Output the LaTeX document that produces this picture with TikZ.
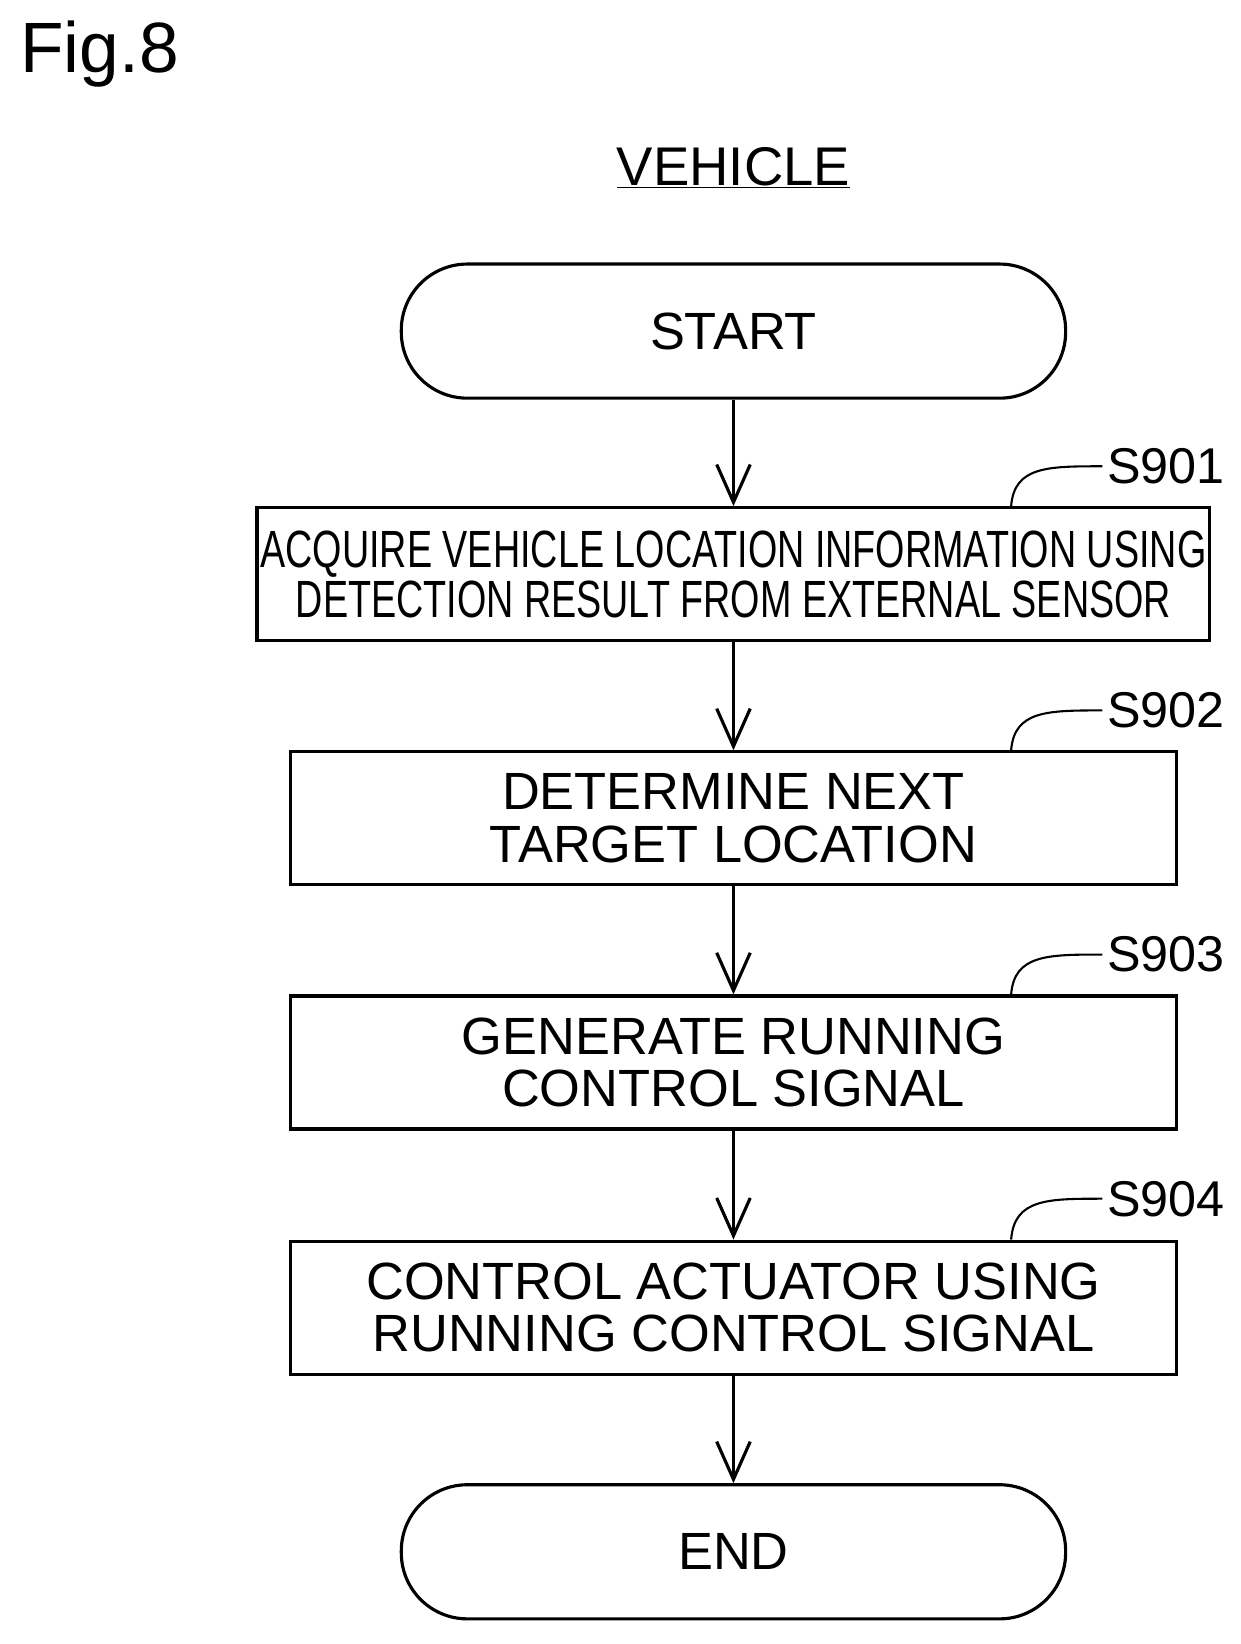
\documentclass[tikz,border=0pt]{standalone}
\usepackage{fontspec}
\setmainfont{Liberation Sans}
\usetikzlibrary{arrows.meta}
\begin{document}
\begin{tikzpicture}[x=1pt,y=-1pt,line width=3pt,
  box/.style={draw,minimum width=846pt,minimum height=127pt,align=center,font=\fontsize{50}{54}\selectfont},
  term/.style={draw,rounded corners=63pt,minimum width=634pt,minimum height=128pt,font=\fontsize{50}{54}\selectfont},
  arr/.style={-{Straight Barb[length=36pt,width=32pt,line width=3pt]}},
  lab/.style={font=\fontsize{48}{50}\selectfont,anchor=west}]
\useasboundingbox (0,0) rectangle (1184,1569);
\node[anchor=north west,font=\fontsize{68}{70}\selectfont,inner sep=0] (fig) at (18,18) {Fig.8};
\node[font=\fontsize{52}{54}\selectfont,inner sep=0] (veh) at (700,160) {\underline{VEHICLE}};
\node[term] (st) at (700,316) {START};
\node[box] (b1) at (700,548) {\scalebox{0.72}[1]{\fontsize{50}{54}\selectfont ACQUIRE VEHICLE LOCATION INFORMATION USING}\\[-6pt]\scalebox{0.72}[1]{\fontsize{50}{54}\selectfont DETECTION RESULT FROM EXTERNAL SENSOR}};
\node[box] (b2) at (700,781) {DETERMINE NEXT\\[-4pt]TARGET LOCATION};
\node[box] (b3) at (700,1014) {GENERATE RUNNING\\[-4pt]CONTROL SIGNAL};
\node[box] (b4) at (700,1248) {CONTROL ACTUATOR USING\\[-4pt]RUNNING CONTROL SIGNAL};
\node[term] (en) at (700,1481) {END};
\draw[arr] (st) -- (b1);
\draw[arr] (b1) -- (b2);
\draw[arr] (b2) -- (b3);
\draw[arr] (b3) -- (b4);
\draw[arr] (b4) -- (en);
\foreach \b/\t/\y in {b1/S901/445,b2/S902/678,b3/S903/911,b4/S904/1144}{
  \node[lab] (\t) at (1052,\y) {\t};
  \draw[line width=2pt] (\b.north -| 965,0) .. controls (968,\y) and (1000,\y) .. (\t.west);
}
\end{tikzpicture}
\end{document}
